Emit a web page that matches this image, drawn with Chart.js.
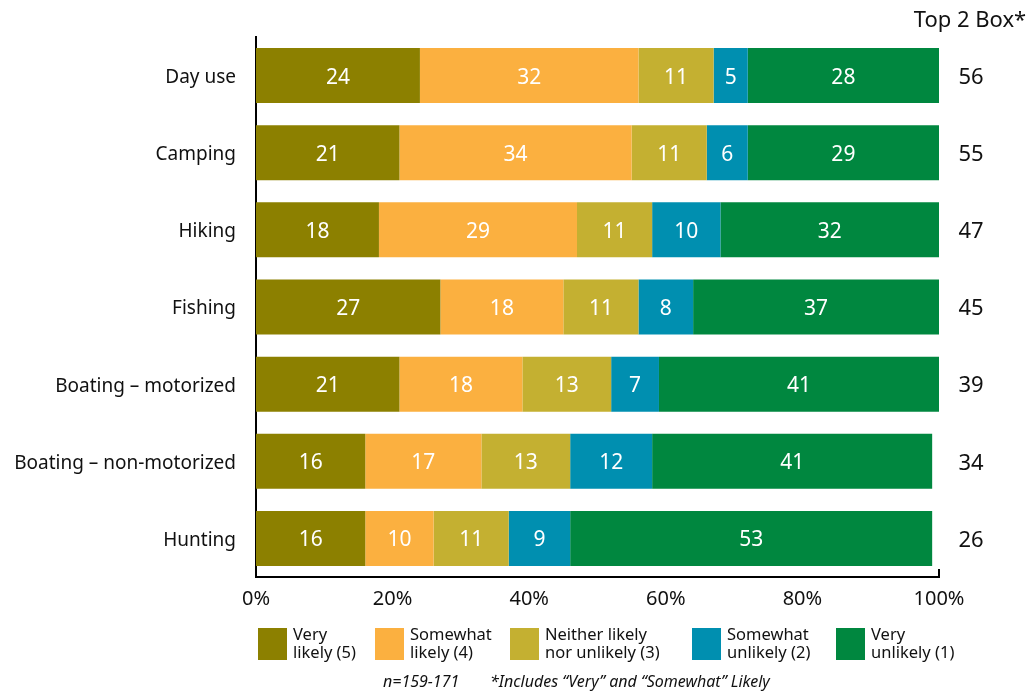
<!DOCTYPE html>
<html lang="en">
<head>
    <meta charset="UTF-8">
    <title>Likelihood of activities</title>
    <style>
        html, body {
            margin: 0;
            padding: 0;
            background: #ffffff;
        }

        #wrap {
            position: relative;
            width: 1034px;
            height: 691px;
        }
    </style>
</head>
<body>
    <div id="wrap">
        <canvas id="likely-chart" width="1034" height="691"></canvas>
    </div>

    <script src="https://cdn.jsdelivr.net/npm/chart.js"></script>
    <script>
        const categories = ['Day use', 'Camping', 'Hiking', 'Fishing', 'Boating \u2013 motorized', 'Boating \u2013 non-motorized', 'Hunting'];

        const veryLikely = [24, 21, 18, 27, 21, 16, 16];
        const somewhatLikely = [32, 34, 29, 18, 18, 17, 10];
        const neither = [11, 11, 11, 11, 13, 13, 11];
        const somewhatUnlikely = [5, 6, 10, 8, 7, 12, 9];
        const veryUnlikely = [28, 29, 32, 37, 41, 41, 53];

        const topTwoBox = [56, 55, 47, 45, 39, 34, 26];

        const seriesNames = [
            ['Very', 'likely (5)'],
            ['Somewhat', 'likely (4)'],
            ['Neither likely', 'nor unlikely (3)'],
            ['Somewhat', 'unlikely (2)'],
            ['Very', 'unlikely (1)']
        ];
        const seriesColors = ['#8c8000', '#fbb040', '#c4b031', '#008fb0', '#00873f'];

        const FONT = "'Noto Sans', 'Open Sans', sans-serif";

        // white numbers inside segments, top 2 box column, axis end tick, legend, footnote
        const extrasPlugin = {
            id: 'extras',
            afterDatasetsDraw(chart) {
                const ctx = chart.ctx;
                ctx.save();
                ctx.fillStyle = '#ffffff';
                ctx.font = '21px ' + FONT;
                ctx.textAlign = 'center';
                ctx.textBaseline = 'middle';
                chart.data.datasets.forEach((ds, i) => {
                    chart.getDatasetMeta(i).data.forEach((bar, j) => {
                        const right = Math.min(bar.x, chart.chartArea.right);
                        const cx = (bar.base + right) / 2;
                        ctx.fillText(String(ds.data[j]), cx, bar.y + 2);
                    });
                });
                ctx.restore();
            },
            afterDraw(chart) {
                const ctx = chart.ctx;
                const area = chart.chartArea;
                const yScale = chart.scales.y;
                ctx.save();

                // small upward tick at the right end of the bottom axis
                ctx.strokeStyle = '#000000';
                ctx.lineWidth = 2;
                ctx.beginPath();
                ctx.moveTo(area.right, area.bottom);
                ctx.lineTo(area.right, area.bottom - 8);
                ctx.stroke();

                // Top 2 Box column
                ctx.fillStyle = '#111111';
                ctx.font = '22px ' + FONT;
                ctx.textAlign = 'center';
                ctx.textBaseline = 'middle';
                ctx.fillText('Top 2 Box*', 970, 21);
                topTwoBox.forEach((v, i) => {
                    ctx.fillText(String(v), 971, yScale.getPixelForValue(i) + 2);
                });

                // legend
                const swatchX = [258, 375, 510, 692, 836];
                ctx.font = '16.5px ' + FONT;
                ctx.textAlign = 'left';
                seriesNames.forEach((lines, i) => {
                    ctx.fillStyle = seriesColors[i];
                    ctx.fillRect(swatchX[i], 628, 29, 32);
                    ctx.fillStyle = '#111111';
                    lines.forEach((line, k) => {
                        ctx.fillText(line, swatchX[i] + 35, 635 + k * 18);
                    });
                });

                // footnote
                ctx.font = 'italic 16px ' + FONT;
                ctx.fillText('n=159-171', 383, 682);
                ctx.fillText('*Includes \u201cVery\u201d and \u201cSomewhat\u201d Likely', 490, 682);

                ctx.restore();
            }
        };

        const ctx = document.getElementById('likely-chart').getContext('2d');
        const seriesData = [veryLikely, somewhatLikely, neither, somewhatUnlikely, veryUnlikely];

        const chart = new Chart(ctx, {
            type: 'bar',
            data: {
                labels: categories,
                datasets: seriesData.map((d, i) => ({
                    label: seriesNames[i].join(' '),
                    data: d,
                    backgroundColor: seriesColors[i],
                    borderWidth: 0,
                    barPercentage: 0.713,
                    categoryPercentage: 1.0
                }))
            },
            options: {
                indexAxis: 'y',
                responsive: false,
                animation: false,
                layout: {
                    padding: { top: 37, right: 95, bottom: 0, left: 0 }
                },
                scales: {
                    x: {
                        stacked: true,
                        min: 0,
                        max: 100,
                        grid: { display: false, drawTicks: false },
                        border: { display: true, color: '#000000', width: 2 },
                        ticks: {
                            stepSize: 20,
                            padding: 10,
                            color: '#111111',
                            font: { family: FONT, size: 20 },
                            callback: v => v + '%'
                        },
                        afterFit(scale) {
                            scale.height = 691 - 577;
                        }
                    },
                    y: {
                        stacked: true,
                        grid: { display: false, drawTicks: false },
                        border: { display: true, color: '#000000', width: 2 },
                        ticks: {
                            padding: 20,
                            labelOffset: 2,
                            color: '#111111',
                            font: { family: FONT, size: 19 }
                        },
                        afterFit(scale) {
                            scale.width = 256;
                        }
                    }
                },
                plugins: {
                    legend: { display: false },
                    tooltip: { enabled: false }
                }
            },
            plugins: [extrasPlugin]
        });
    </script>
</body>
</html>
